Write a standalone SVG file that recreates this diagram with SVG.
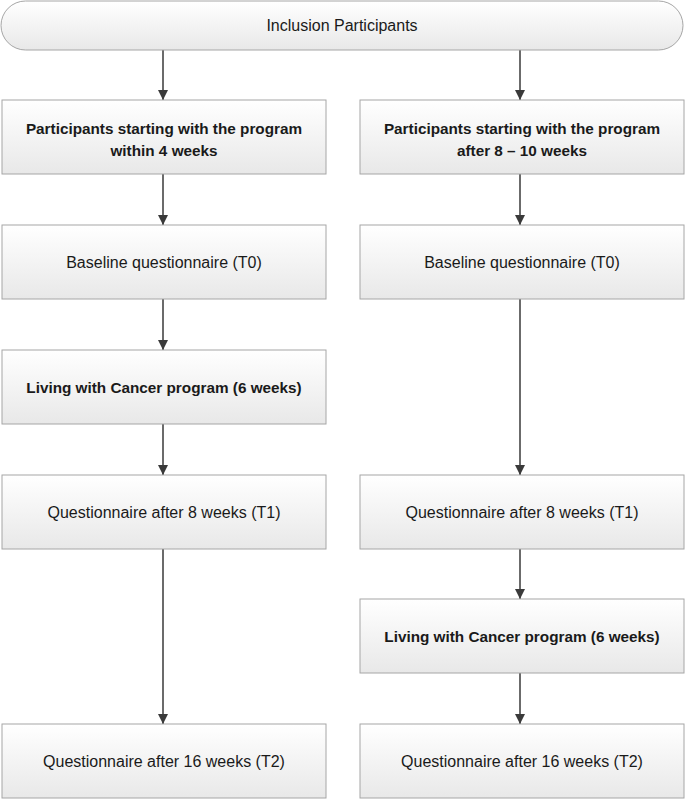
<svg xmlns="http://www.w3.org/2000/svg" width="685" height="800" viewBox="0 0 685 800">
<defs>
<linearGradient id="g" x1="0" y1="0" x2="0" y2="1">
<stop offset="0" stop-color="#ffffff"/>
<stop offset="1" stop-color="#e8e8e8"/>
</linearGradient>
<marker id="ah" markerWidth="10" markerHeight="10" refX="10" refY="5" orient="auto" markerUnits="userSpaceOnUse">
<path d="M0,0 L10,5 L0,10 z" fill="#3a3a3a"/>
</marker>
<style>
.box{fill:url(#g);stroke:#a6a6a6;stroke-width:1}
.t{font-family:"Liberation Sans",Arial,sans-serif;font-size:16px;fill:#1a1a1a;text-anchor:middle}
.b{font-weight:bold;font-size:15.3px}
.c{stroke:#3a3a3a;stroke-width:1.5;fill:none;marker-end:url(#ah)}
</style>
</defs>
<g id="connectors">
<line class="c" x1="163" y1="50" x2="163" y2="100"/>
<line class="c" x1="520" y1="50" x2="520" y2="100"/>
<line class="c" x1="163" y1="174" x2="163" y2="225"/>
<line class="c" x1="520" y1="174" x2="520" y2="225"/>
<line class="c" x1="163" y1="299" x2="163" y2="350"/>
<line class="c" x1="520" y1="299" x2="520" y2="475"/>
<line class="c" x1="163" y1="424" x2="163" y2="475"/>
<line class="c" x1="163" y1="549" x2="163" y2="724"/>
<line class="c" x1="520" y1="549" x2="520" y2="599"/>
<line class="c" x1="520" y1="673" x2="520" y2="724"/>
</g>
<g id="inclusion">
<rect class="box" x="1" y="1" width="682" height="49" rx="24.5" ry="24.5"/>
<text class="t" x="342" y="31">Inclusion Participants</text>
</g>
<g id="left-start">
<rect class="box" x="2" y="100" width="324" height="74"/>
<text class="t b" x="164" y="134">Participants starting with the program</text>
<text class="t b" x="164" y="156">within 4 weeks</text>
</g>
<g id="right-start">
<rect class="box" x="360" y="100" width="324" height="74"/>
<text class="t b" x="522" y="134">Participants starting with the program</text>
<text class="t b" x="522" y="156">after 8 – 10 weeks</text>
</g>
<g id="left-t0">
<rect class="box" x="2" y="225" width="324" height="74"/>
<text class="t" x="164" y="268">Baseline questionnaire (T0)</text>
</g>
<g id="right-t0">
<rect class="box" x="360" y="225" width="324" height="74"/>
<text class="t" x="522" y="268">Baseline questionnaire (T0)</text>
</g>
<g id="left-program">
<rect class="box" x="2" y="350" width="324" height="74"/>
<text class="t b" x="164" y="393">Living with Cancer program (6 weeks)</text>
</g>
<g id="left-t1">
<rect class="box" x="2" y="475" width="324" height="74"/>
<text class="t" x="164" y="518">Questionnaire after 8 weeks (T1)</text>
</g>
<g id="right-t1">
<rect class="box" x="360" y="475" width="324" height="74"/>
<text class="t" x="522" y="518">Questionnaire after 8 weeks (T1)</text>
</g>
<g id="right-program">
<rect class="box" x="360" y="599" width="324" height="74"/>
<text class="t b" x="522" y="642">Living with Cancer program (6 weeks)</text>
</g>
<g id="left-t2">
<rect class="box" x="2" y="724" width="324" height="74"/>
<text class="t" x="164" y="767">Questionnaire after 16 weeks (T2)</text>
</g>
<g id="right-t2">
<rect class="box" x="360" y="724" width="324" height="74"/>
<text class="t" x="522" y="767">Questionnaire after 16 weeks (T2)</text>
</g>
</svg>
